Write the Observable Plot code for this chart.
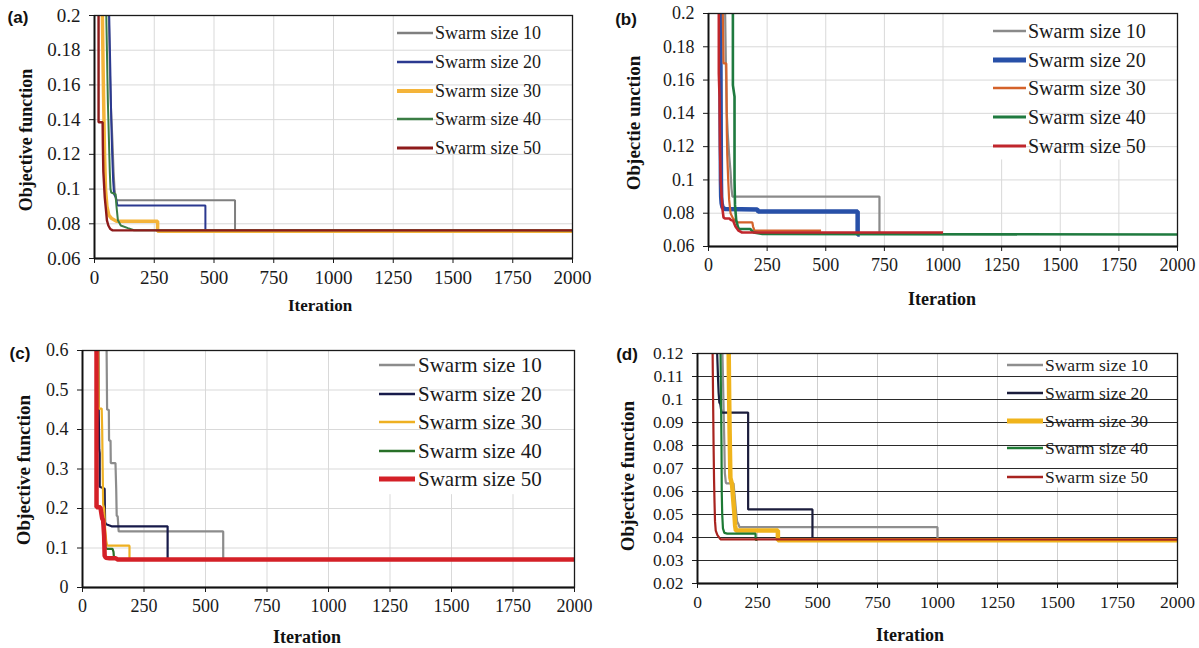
<!DOCTYPE html>
<html>
<head>
<meta charset="utf-8">
<script src="https://cdn.jsdelivr.net/npm/d3@7"></script>
<script src="https://cdn.jsdelivr.net/npm/@observablehq/plot@0.6"></script>
<style>
  html, body { margin: 0; padding: 0; background: #fff; }
  #root { position: relative; width: 1199px; height: 648px; overflow: hidden; background: #fff; }
  #root > svg { position: absolute; }
  #root svg text { font-family: "Liberation Serif", "DejaVu Serif", serif; }
  #root svg text.lab { font-family: "Liberation Sans", "DejaVu Sans", sans-serif; }
</style>
</head>
<body>
<div id="root"></div>
<script>
// ---------------- data ----------------
const xTicks = [0, 250, 500, 750, 1000, 1250, 1500, 1750, 2000];
const seriesLabels = ["Swarm size 10", "Swarm size 20", "Swarm size 30", "Swarm size 40", "Swarm size 50"];
const panelLabels = ["(a)", "(b)", "(c)", "(d)"];
const yTitles = ["Objective function", "Objectie unction", "Objective function", "Objective function"];
const xTitle = "Iteration";

const yTicksA = [0.06, 0.08, 0.1, 0.12, 0.14, 0.16, 0.18, 0.2];
const yTicksB = [0.06, 0.08, 0.1, 0.12, 0.14, 0.16, 0.18, 0.2];
const yTicksC = [0, 0.1, 0.2, 0.3, 0.4, 0.5, 0.6];
const yTicksD = [0.02, 0.03, 0.04, 0.05, 0.06, 0.07, 0.08, 0.09, 0.1, 0.11, 0.12];

// panel (a): [iteration, objective]
const a10 = [[58,0.21],[60,0.2],[64,0.17],[68,0.15],[72,0.138],[76,0.125],[80,0.11],[84,0.1],[88,0.096],[90,0.0935],[588,0.0935],[588,0.076],[2000,0.076]];
const a20 = [[60,0.21],[66,0.17],[70,0.14],[74,0.12],[78,0.105],[82,0.097],[90,0.095],[96,0.0905],[464,0.0905],[464,0.076],[2000,0.076]];
const a30 = [[32,0.21],[36,0.17],[38,0.153],[42,0.12],[46,0.1],[52,0.09],[60,0.085],[72,0.083],[92,0.0815],[264,0.0815],[264,0.0757],[2000,0.0757]];
const a40 = [[48,0.21],[52,0.18],[56,0.15],[60,0.13],[64,0.11],[67,0.1],[70,0.098],[88,0.097],[92,0.09],[98,0.082],[110,0.079],[140,0.0775],[165,0.0763],[2000,0.0762]];
const a50 = [[17,0.21],[17,0.1385],[34,0.1385],[35,0.125],[37,0.11],[41,0.1],[43,0.095],[48,0.088],[52,0.082],[58,0.079],[66,0.077],[76,0.0762],[2000,0.0762]];

// panel (b)
const b10 = [[70,0.21],[74,0.17],[78,0.14],[82,0.128],[88,0.115],[94,0.105],[98,0.095],[102,0.09],[729,0.09],[729,0.0675],[740,0.0675]];
const b20 = [[50,0.21],[51,0.17],[52,0.13],[53,0.1],[54,0.09],[56,0.086],[60,0.0835],[70,0.0825],[208,0.0822],[212,0.081],[636,0.081],[636,0.0672],[645,0.0672]];
const b30 = [[60,0.21],[64,0.17],[76,0.17],[78,0.13],[80,0.115],[84,0.1],[88,0.088],[94,0.08],[104,0.077],[120,0.0745],[187,0.0745],[190,0.072],[196,0.0695],[480,0.0695]];
const b40 = [[104,0.21],[104,0.157],[111,0.15],[111,0.1],[113,0.085],[118,0.076],[125,0.072],[130,0.0705],[178,0.0705],[192,0.0685],[230,0.0675],[2000,0.0672]];
const b50 = [[44,0.21],[44,0.164],[47,0.15],[49,0.12],[52,0.1],[56,0.09],[60,0.082],[64,0.0775],[70,0.0768],[90,0.0768],[94,0.076],[105,0.0755],[115,0.072],[128,0.0695],[143,0.0684],[1000,0.0684]];

// panel (c)
const c10 = [[98,0.65],[98,0.6],[100,0.45],[107,0.45],[108,0.372],[114,0.372],[115,0.315],[134,0.315],[137,0.25],[139,0.182],[143,0.18],[147,0.142],[572,0.142],[572,0.071],[580,0.071]];
const c20 = [[64,0.65],[66,0.45],[68,0.35],[70,0.34],[70,0.255],[90,0.25],[91,0.2],[92,0.165],[96,0.16],[110,0.157],[118,0.155],[346,0.155],[346,0.071],[350,0.071]];
const c30 = [[64,0.65],[64,0.6],[66,0.453],[78,0.453],[80,0.4],[82,0.3],[84,0.21],[88,0.2],[92,0.15],[96,0.12],[100,0.106],[191,0.106],[191,0.071],[195,0.071]];
const c40 = [[57,0.65],[57,0.21],[75,0.2],[82,0.17],[88,0.13],[94,0.1],[100,0.098],[122,0.098],[126,0.09],[128,0.075],[140,0.071],[2000,0.071]];
const c50 = [[57,0.65],[57,0.203],[73,0.203],[76,0.19],[80,0.175],[84,0.17],[88,0.13],[90,0.08],[95,0.075],[110,0.074],[135,0.074],[142,0.071],[2000,0.071]];

// panel (d)
const d10 = [[100,0.13],[104,0.12],[108,0.1],[112,0.08],[114,0.068],[118,0.064],[120,0.0635],[150,0.0635],[155,0.058],[160,0.052],[165,0.047],[170,0.046],[175,0.0445],[1000,0.0445],[1000,0.039],[1010,0.039]];
const d20 = [[80,0.13],[82,0.12],[86,0.108],[88,0.103],[91,0.0987],[95,0.098],[100,0.0943],[211,0.0943],[211,0.0522],[479,0.0522],[479,0.039],[485,0.039]];
const d30 = [[130,0.13],[130,0.12],[132,0.1],[134,0.085],[137,0.066],[144,0.063],[150,0.055],[154,0.05],[157,0.045],[160,0.043],[335,0.043],[335,0.0388],[2000,0.0388]];
const d40 = [[95,0.13],[96,0.12],[98,0.1],[100,0.08],[101,0.06],[103,0.05],[106,0.044],[112,0.042],[124,0.0417],[242,0.0417],[242,0.039],[250,0.039]];
const d50 = [[63,0.13],[63,0.12],[65,0.1],[67,0.08],[69,0.065],[71,0.055],[73,0.047],[76,0.043],[83,0.041],[96,0.0392],[2000,0.0391]];

// ---------------- layout / style ----------------
const panels = [
  { series: [a10, a20, a30, a40, a50], yDomain: [0.06, 0.2], yTicks: yTicksA,
    left: 0, top: 0, w: 600, h: 320, mL: 94, mR: 28, mT: 15, mB: 62,
    colors: ["#7f7f7f", "#2b3990", "#f4b43a", "#3a7d44", "#8e1b1b"],
    widths: [2, 2, 3.5, 2, 2.4],
    hgrid: "#d9d9d9", vgrid: "#d9d9d9", tickFont: 19,
    legendBox: { x1: 1262, x2: 1930, y1: 0.121, y2: 0.2 },
    legend: { x1: 397, x2: 433, tx: 435, rows: [33, 62, 91, 119, 148], font: 18 },
    label: [18, 17], yTitle: [26, 140], yTitleFont: 18, xTitle: [320, 305], xTitleFont: 17 },
  { series: [b10, b20, b30, b40, b50], yDomain: [0.06, 0.2], yTicks: yTicksB,
    left: 600, top: 0, w: 599, h: 320, mL: 108, mR: 22, mT: 13, mB: 74,
    colors: ["#8a8a8a", "#2850a8", "#d4622a", "#1f7a3f", "#c0262c"],
    widths: [2.2, 4.5, 2.2, 2.6, 2.6],
    hgrid: "#d9d9d9", vgrid: "#d9d9d9", tickFont: 18,
    legendBox: { x1: 1200, x2: 1900, y1: 0.112, y2: 0.2 },
    legend: { x1: 993, x2: 1026, tx: 1028, rows: [31, 60, 88, 117, 146], font: 20 },
    label: [626, 19], yTitle: [633, 123], yTitleFont: 19, xTitle: [942, 299], xTitleFont: 18 },
  { series: [c10, c20, c30, c40, c50], yDomain: [0, 0.6], yTicks: yTicksC,
    left: 0, top: 330, w: 600, h: 318, mL: 82, mR: 26, mT: 20, mB: 61,
    colors: ["#8c8c8c", "#171a4a", "#eeb022", "#287028", "#d42027"],
    widths: [2.2, 2.2, 2.2, 2.2, 4.5],
    hgrid: "#d9d9d9", vgrid: "#d9d9d9", tickFont: 18,
    legendBox: { x1: 1200, x2: 1890, y1: 0.235, y2: 0.6 },
    legend: { x1: 379, x2: 415, tx: 418, rows: [365, 394, 422, 451, 479], font: 21 },
    label: [20, 353], yTitle: [23, 470], yTitleFont: 19, xTitle: [307, 637], xTitleFont: 18 },
  { series: [d10, d20, d30, d40, d50], yDomain: [0.02, 0.12], yTicks: yTicksD,
    left: 600, top: 330, w: 599, h: 318, mL: 97, mR: 22, mT: 23, mB: 65,
    colors: ["#8e8e8e", "#1b1d3c", "#f0b41c", "#1d7a34", "#a8231f"],
    widths: [2.2, 2.2, 4.5, 2.2, 2.2],
    hgrid: "#2a2a2a", vgrid: "#cfcfcf", tickFont: 17.5,
    legendBox: { x1: 1280, x2: 1890, y1: 0.0615, y2: 0.12 },
    legend: { x1: 1007, x2: 1043, tx: 1045, rows: [365, 393, 421, 448, 477], font: 17.5 },
    label: [627, 354], yTitle: [627, 476], yTitleFont: 19, xTitle: [910, 635], xTitleFont: 18 }
];

const serif = "Liberation Serif";
const fmtY = d => String(+d.toFixed(2));
const root = document.getElementById("root");

panels.forEach((p, pi) => {
  const marks = [
    Plot.ruleX(xTicks, { stroke: p.vgrid, strokeWidth: 1 }),
    Plot.rect([p.legendBox], { x1: "x1", x2: "x2", y1: "y1", y2: "y2", fill: "white" }),
    Plot.ruleY(p.yTicks, { stroke: p.hgrid, strokeWidth: 1 }),
    ...p.series.map((pts, i) => Plot.line(pts, {
      x: d => d[0], y: d => d[1], stroke: p.colors[i], strokeWidth: p.widths[i],
      clip: true, strokeLinejoin: "miter", strokeLinecap: "butt"
    })),
    Plot.frame({ stroke: "#1a1a1a", strokeWidth: 1.3 }),
    Plot.axisX(xTicks, { tickSize: 5, tickPadding: 7, tickFormat: d => String(d), fontSize: p.tickFont, fontFamily: serif, stroke: "#1a1a1a", fill: "#1a1a1a", label: null }),
    Plot.axisY(p.yTicks, { tickSize: 5, tickPadding: 9, tickFormat: fmtY, fontSize: p.tickFont, fontFamily: serif, stroke: "#1a1a1a", fill: "#1a1a1a", label: null }),
    Plot.ruleX([0], { stroke: "#111", strokeWidth: 1.8 }),
    Plot.ruleY([p.yDomain[0]], { stroke: "#111", strokeWidth: 1.8 })
  ];
  const svg = Plot.plot({
    width: p.w, height: p.h,
    marginLeft: p.mL, marginRight: p.mR, marginTop: p.mT, marginBottom: p.mB,
    x: { domain: [0, 2000] },
    y: { domain: p.yDomain },
    style: { background: "transparent", fontFamily: serif, color: "#1a1a1a", overflow: "visible" },
    marks
  });
  svg.style.left = p.left + "px";
  svg.style.top = p.top + "px";
  root.appendChild(svg);
});

// overlay for legends and titles
const ov = d3.select(root).append("svg")
  .attr("width", 1199).attr("height", 648)
  .style("left", "0px").style("top", "0px").style("pointer-events", "none");

panels.forEach((p, pi) => {
  const g = ov.append("g");
  seriesLabels.forEach((lab, i) => {
    const y = p.legend.rows[i];
    g.append("line").attr("x1", p.legend.x1).attr("x2", p.legend.x2).attr("y1", y).attr("y2", y)
      .attr("stroke", p.colors[i]).attr("stroke-width", Math.max(2.4, p.widths[i] + 0.5));
    g.append("text").attr("x", p.legend.tx).attr("y", y).attr("dy", "0.34em")
      .attr("font-size", p.legend.font).attr("fill", "#1a1a1a")
      .text(lab);
  });
  g.append("text").attr("class", "lab").attr("x", p.label[0]).attr("y", p.label[1]).attr("dy", "0.36em")
    .attr("text-anchor", "middle").attr("font-weight", "bold")
    .attr("font-size", 17).attr("fill", "#111").text(panelLabels[pi]);
  g.append("text").attr("transform", `translate(${p.yTitle[0]},${p.yTitle[1]}) rotate(-90)`)
    .attr("dy", "0.35em").attr("text-anchor", "middle")
    .attr("font-weight", "bold").attr("font-size", p.yTitleFont).attr("fill", "#111").text(yTitles[pi]);
  g.append("text").attr("x", p.xTitle[0]).attr("y", p.xTitle[1]).attr("dy", "0.35em")
    .attr("text-anchor", "middle").attr("font-weight", "bold")
    .attr("font-size", p.xTitleFont).attr("fill", "#111").text(xTitle);
});
</script>
</body>
</html>
